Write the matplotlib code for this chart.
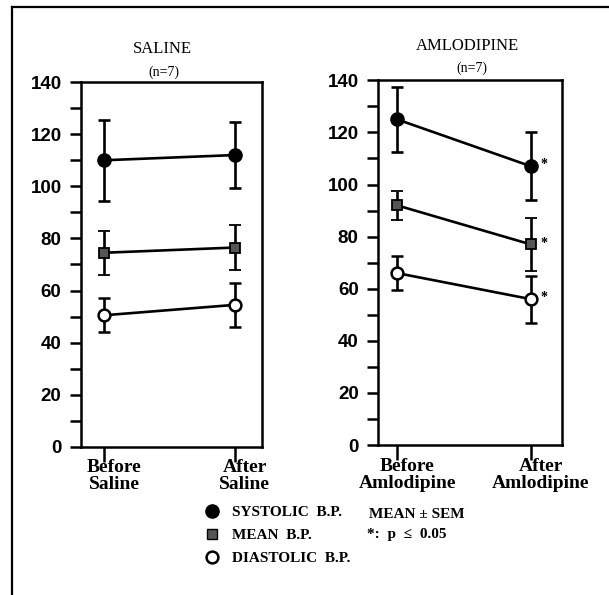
import numpy as np
import matplotlib
matplotlib.use("Agg")
import matplotlib.pyplot as plt
from matplotlib.lines import Line2D
from matplotlib.ticker import MultipleLocator
import matplotlib.transforms as mtransforms

# values (mmHg, mean and SEM)
saline_sys = [110, 112]
saline_sys_err = [15.5, 12.5]
saline_mean = [74.5, 76.5]
saline_mean_err = [8.5, 8.5]
saline_dia = [50.5, 54.5]
saline_dia_err = [6.5, 8.5]

aml_sys = [125, 107]
aml_sys_err = [12.5, 13]
aml_mean = [92, 77]
aml_mean_err = [5.7, 10]
aml_dia = [66, 56]
aml_dia_err = [6.5, 9]

saline_labels = ["Before\nSaline", "After\nSaline"]
aml_labels = ["Before\nAmlodipine", "After\nAmlodipine"]

SERIF = ["Liberation Serif", "DejaVu Serif"]
SANS = ["Liberation Sans", "DejaVu Sans"]

fig = plt.figure(figsize=(6.09, 5.95), dpi=100)

ax1 = fig.add_axes([0.133, 0.249, 0.297, 0.613])
ax2 = fig.add_axes([0.621, 0.252, 0.302, 0.613])


def draw_panel(ax, sys, sys_e, mean, mean_e, dia, dia_e, labels, xlim):
    x = np.arange(2)
    eb = dict(ecolor="black", elinewidth=1.9, capsize=4, capthick=1.9, color="black", lw=1.9)
    ax.errorbar(x, sys, yerr=sys_e, marker="o", ms=9.5, mfc="black", mec="black", **eb)
    ax.errorbar(x, mean, yerr=mean_e, marker="s", ms=7, mfc="#555555", mec="black", mew=1.3, **eb)
    ax.errorbar(x, dia, yerr=dia_e, marker="o", ms=8.5, mfc="white", mec="black", mew=1.8, **eb)

    ax.set_xlim(*xlim)
    ax.set_ylim(0, 140)
    ax.yaxis.set_major_locator(MultipleLocator(20))
    ax.yaxis.set_minor_locator(MultipleLocator(10))
    ax.tick_params(axis="y", which="both", direction="out", length=8, width=1.8, pad=6)
    ax.tick_params(axis="x", direction="out", length=11, width=1.8, pad=-2)
    ax.set_xticks(x)
    ax.set_xticklabels(labels, family=SERIF, fontweight="bold", fontsize=14, linespacing=1.0)
    for lab in ax.get_yticklabels():
        lab.set_family(SANS)
        lab.set_fontweight("bold")
        lab.set_fontsize(13.5)
    shift = mtransforms.ScaledTranslation(0.10, 0, fig.dpi_scale_trans)
    for lab in ax.get_xticklabels():
        lab.set_transform(lab.get_transform() + shift)
    for s in ax.spines.values():
        s.set_linewidth(1.8)


draw_panel(ax1, saline_sys, saline_sys_err, saline_mean, saline_mean_err,
           saline_dia, saline_dia_err, saline_labels, (-0.176, 1.207))
draw_panel(ax2, aml_sys, aml_sys_err, aml_mean, aml_mean_err,
           aml_dia, aml_dia_err, aml_labels, (-0.142, 1.233))

# panel headings
ax1.text(0.45, 1.09, "SALINE", transform=ax1.transAxes, ha="center", va="center",
         family=SERIF, fontsize=12)
ax1.text(0.46, 1.027, "(n=7)", transform=ax1.transAxes, ha="center", va="center",
         family=SERIF, fontsize=10)
ax2.text(0.484, 1.095, "AMLODIPINE", transform=ax2.transAxes, ha="center", va="center",
         family=SERIF, fontsize=12)
ax2.text(0.51, 1.032, "(n=7)", transform=ax2.transAxes, ha="center", va="center",
         family=SERIF, fontsize=10)

# significance marks after amlodipine
for y in (aml_sys[1], aml_mean[1], aml_dia[1]):
    ax2.annotate("*", (1, y), xytext=(7, 1), textcoords="offset points",
                 ha="left", va="center", fontsize=10, fontweight="bold", family=SERIF)

# legend
handles = [
    Line2D([], [], ls="none", marker="o", ms=9.5, mfc="black", mec="black"),
    Line2D([], [], ls="none", marker="s", ms=7, mfc="#555555", mec="black"),
    Line2D([], [], ls="none", marker="o", ms=8.5, mfc="white", mec="black", mew=1.8),
]
names = ["SYSTOLIC  B.P.", "MEAN  B.P.", "DIASTOLIC  B.P."]
fig.legend(handles, names, loc="upper left", bbox_to_anchor=(0.335, 0.150),
           frameon=False, borderpad=0, borderaxespad=0, handlelength=1.0,
           handletextpad=0.85, labelspacing=0.6,
           prop=dict(family=SERIF, weight="bold", size=11))
fig.text(0.606, 0.136, "MEAN ± SEM", family=SERIF, fontweight="bold", fontsize=11,
         ha="left", va="center")
fig.text(0.603, 0.101, "*:  p  ≤  0.05", family=SERIF, fontweight="bold", fontsize=11,
         ha="left", va="center")

# page frame (left and top edges)
fig.add_artist(Line2D([0.0197, 0.0197], [0.0, 0.988], color="black", lw=1.6))
fig.add_artist(Line2D([0.0197, 1.0], [0.988, 0.988], color="black", lw=1.6))

fig.savefig("out.png", dpi=100)
